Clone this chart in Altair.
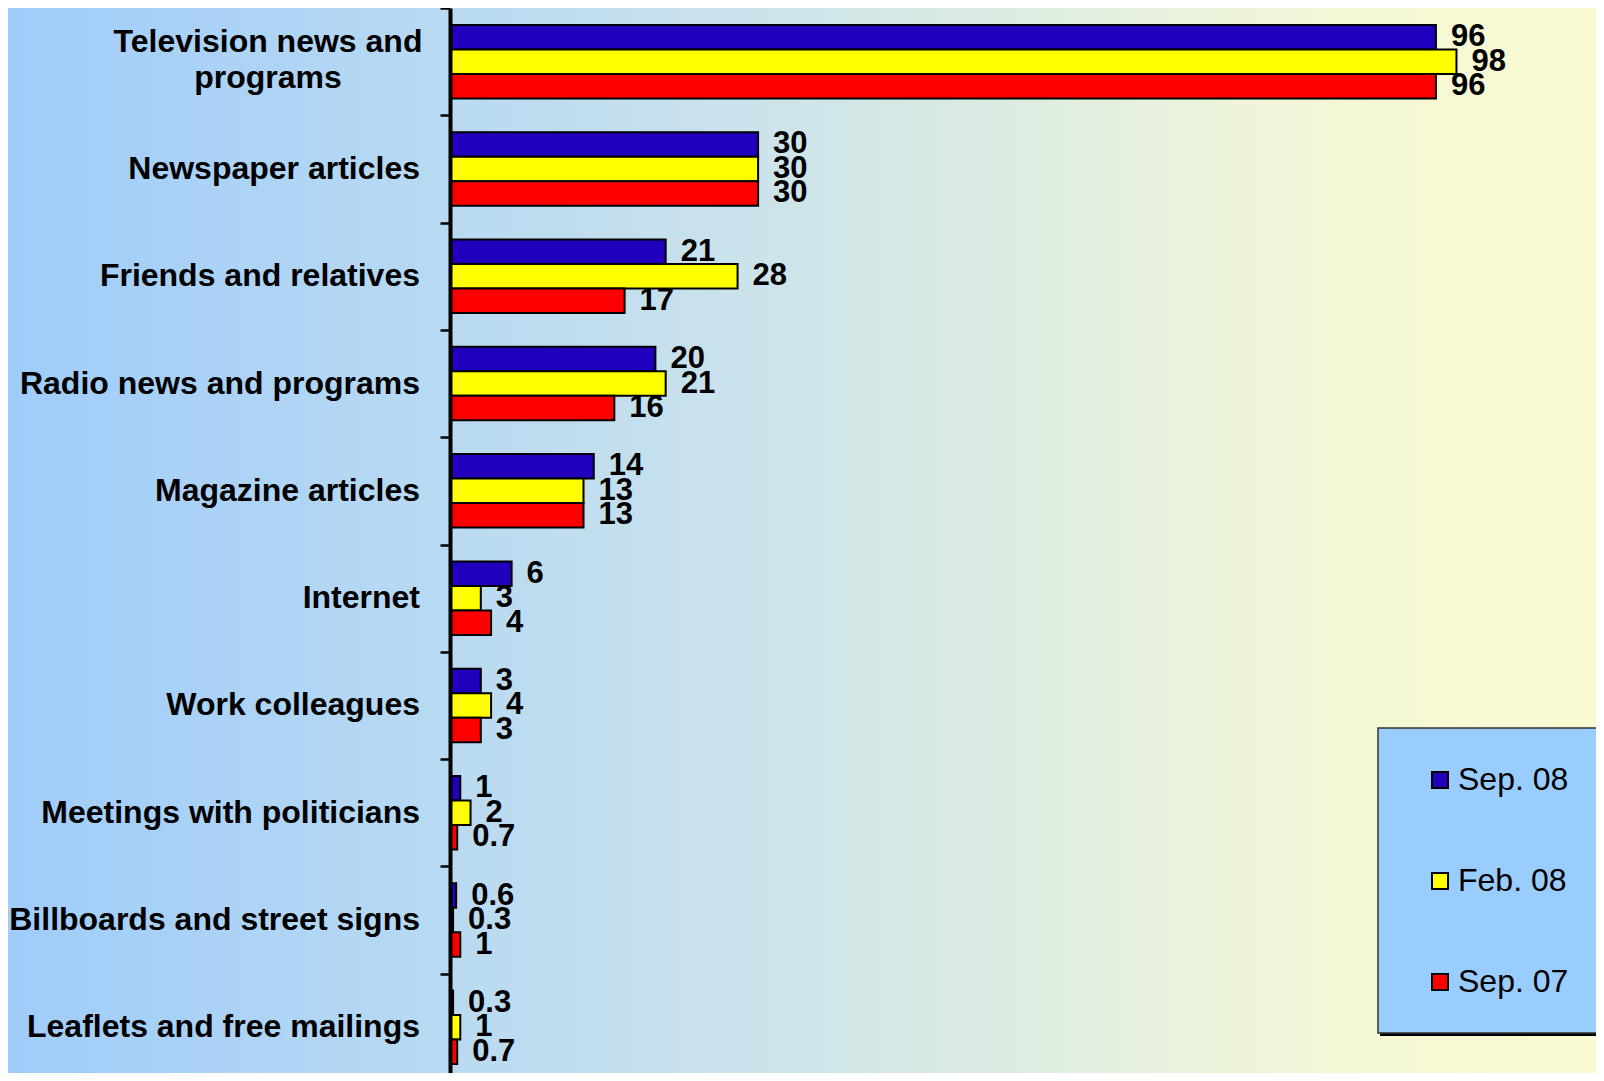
import altair as alt
import pandas as pd

categories = [
    "Television news and programs",
    "Newspaper articles",
    "Friends and relatives",
    "Radio news and programs",
    "Magazine articles",
    "Internet",
    "Work colleagues",
    "Meetings with politicians",
    "Billboards and street signs",
    "Leaflets and free mailings",
]
display_labels = [
    "Television news and\nprograms",
    "Newspaper articles",
    "Friends and relatives",
    "Radio news and programs",
    "Magazine articles",
    "Internet",
    "Work colleagues",
    "Meetings with politicians",
    "Billboards and street signs",
    "Leaflets and free mailings",
]
series = ["Sep. 08", "Feb. 08", "Sep. 07"]
sep08 = [96, 30, 21, 20, 14, 6, 3, 1, 0.6, 0.3]
feb08 = [98, 30, 28, 21, 13, 3, 4, 2, 0.3, 1]
sep07 = [96, 30, 17, 16, 13, 4, 3, 0.7, 1, 0.7]
colors = ["#2000BC", "#FFFF00", "#FF0000"]

rows = []
for s, vals in zip(series, [sep08, feb08, sep07]):
    for c, v in zip(categories, vals):
        rows.append({"category": c, "series": s, "value": v})
df = pd.DataFrame(rows)
label_df = pd.DataFrame({"category": categories, "label": display_labels})

W = 1146
H = 1073
PAD_LEFT = 442
FONT = "Liberation Sans"

y_enc = alt.Y(
    "category:N",
    sort=categories,
    scale=alt.Scale(paddingInner=0, paddingOuter=0),
    axis=alt.Axis(
        title=None,
        labels=False,
        grid=False,
        tickBand="extent",
        tickSize=10,
        tickWidth=2.5,
        tickColor="black",
        domainColor="black",
        domainWidth=4,
        zindex=1,
    ),
)
x_enc = alt.X("value:Q", scale=alt.Scale(domain=[0, W / 10.27], nice=False, zero=True), axis=None)
yoff_enc = alt.YOffset("series:N", sort=series, scale=alt.Scale(paddingOuter=0.69, paddingInner=0))

gradient = alt.LinearGradient(
    gradient="linear",
    stops=[
        alt.GradientStop(color="#9FCCFA", offset=0),
        alt.GradientStop(color="#C9E2EC", offset=0.45),
        alt.GradientStop(color="#F5F8D6", offset=0.85),
        alt.GradientStop(color="#FAFAD2", offset=1),
    ],
    x1=0, x2=1, y1=0, y2=0,
)

one = alt.Data(values=[{}])

background = alt.Chart(one).mark_rect(color=gradient).encode(
    x=alt.value(-PAD_LEFT), x2=alt.value(W), y=alt.value(0), y2=alt.value(H)
)

legend_shadow = alt.Chart(one).mark_rect(color="black").encode(
    x=alt.value(930), x2=alt.value(W + 20), y=alt.value(723), y2=alt.value(1028)
)
legend_box = alt.Chart(one).mark_rect(color="#99CCFF", stroke="#333333", strokeWidth=1.5).encode(
    x=alt.value(928), x2=alt.value(W + 20), y=alt.value(720), y2=alt.value(1025)
)

bars = alt.Chart(df).mark_bar(stroke="black", strokeWidth=2).encode(
    x=x_enc,
    y=y_enc,
    yOffset=yoff_enc,
    color=alt.Color(
        "series:N",
        sort=series,
        scale=alt.Scale(domain=series, range=colors),
        legend=alt.Legend(
            orient="none",
            legendX=974,
            legendY=756,
            title=None,
            symbolType="square",
            symbolSize=256,
            symbolStrokeColor="black",
            symbolStrokeWidth=2,
            labelFont=FONT,
            labelFontSize=32,
            labelColor="black",
            labelOffset=2,
            rowPadding=69,
            padding=0,
            direction="vertical",
        ),
    ),
)

values = alt.Chart(df).mark_text(
    align="left", baseline="middle", dx=15, fontSize=31, fontWeight="bold", font=FONT, color="black"
).encode(
    x=x_enc,
    y=y_enc,
    yOffset=yoff_enc,
    text=alt.Text("value:Q", format="~g"),
)

cat_labels = alt.Chart(label_df).transform_filter(
    alt.datum.category != categories[0]
).mark_text(
    align="right", baseline="middle", fontSize=32, fontWeight="bold", font=FONT, color="black"
).encode(x=alt.value(-30), y=y_enc, text="label:N")

cat_label_first = alt.Chart(label_df).transform_filter(
    alt.datum.category == categories[0]
).mark_text(
    align="center", baseline="middle", fontSize=32, fontWeight="bold", font=FONT, color="black",
    lineBreak="\n", lineHeight=36, dy=-20,
).encode(x=alt.value(-182), y=y_enc, text="label:N")

chart = alt.layer(
    background, legend_shadow, legend_box, bars, values, cat_labels, cat_label_first
).properties(
    width=W,
    height=H,
    padding={"left": PAD_LEFT, "top": 0, "right": 0, "bottom": -8},
    autosize=alt.AutoSizeParams(type="none"),
).configure_view(stroke=None)

chart.save("out.html", embed_options={"renderer": "svg", "actions": False})
